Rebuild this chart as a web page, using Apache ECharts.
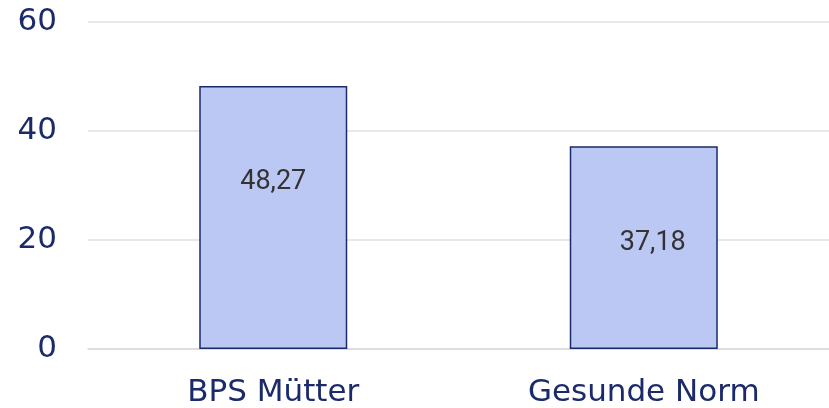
<!DOCTYPE html>
<html>
<head>
<meta charset="utf-8">
<script src="https://cdn.jsdelivr.net/npm/echarts@6/dist/echarts.min.js"></script>
<style>
  html, body { margin: 0; padding: 0; background: #fff; }
  #chart { width: 829px; height: 408px; }
</style>
</head>
<body>
<div id="chart"></div>
<script>
const categories = ['BPS Mütter', 'Gesunde Norm']
const values = [48.27, 37.18]
const yTicks = [0, 20, 40, 60]

const navy = '#1b2a6b'
const chart = echarts.init(document.getElementById('chart'))

chart.setOption({
  animation: false,
  grid: { left: 88, right: 0, top: 22, bottom: 58 },
  xAxis: {
    type: 'category',
    data: categories,
    axisLine: { show: true, lineStyle: { color: '#d9d9d9', width: 1.5 } },
    axisTick: { show: false },
    axisLabel: {
      color: navy,
      fontFamily: 'DejaVu Sans, Verdana, sans-serif',
      fontSize: 31,
      margin: 28
    }
  },
  yAxis: {
    type: 'value',
    min: yTicks[0],
    max: yTicks[yTicks.length - 1],
    interval: 20,
    axisLine: { show: false },
    axisTick: { show: false },
    splitLine: { lineStyle: { color: '#e0e0e0', width: 1.5 } },
    axisLabel: {
      color: navy,
      fontFamily: 'DejaVu Sans, Verdana, sans-serif',
      fontSize: 31,
      margin: 31
    }
  },
  series: [{
    type: 'bar',
    barWidth: 148,
    data: values.map((v, i) => ({
      value: v,
      label: i === 1 ? { offset: [9, 0] } : {}
    })),
    itemStyle: {
      color: '#bcc8f4',
      borderColor: navy,
      borderWidth: 1.5
    },
    label: {
      show: true,
      position: 'insideTop',
      distance: 83,
      color: '#333',
      fontFamily: 'Roboto, sans-serif',
      fontSize: 27,
      formatter: p => String(p.value).replace('.', ',')
    }
  }]
})
</script>
</body>
</html>
